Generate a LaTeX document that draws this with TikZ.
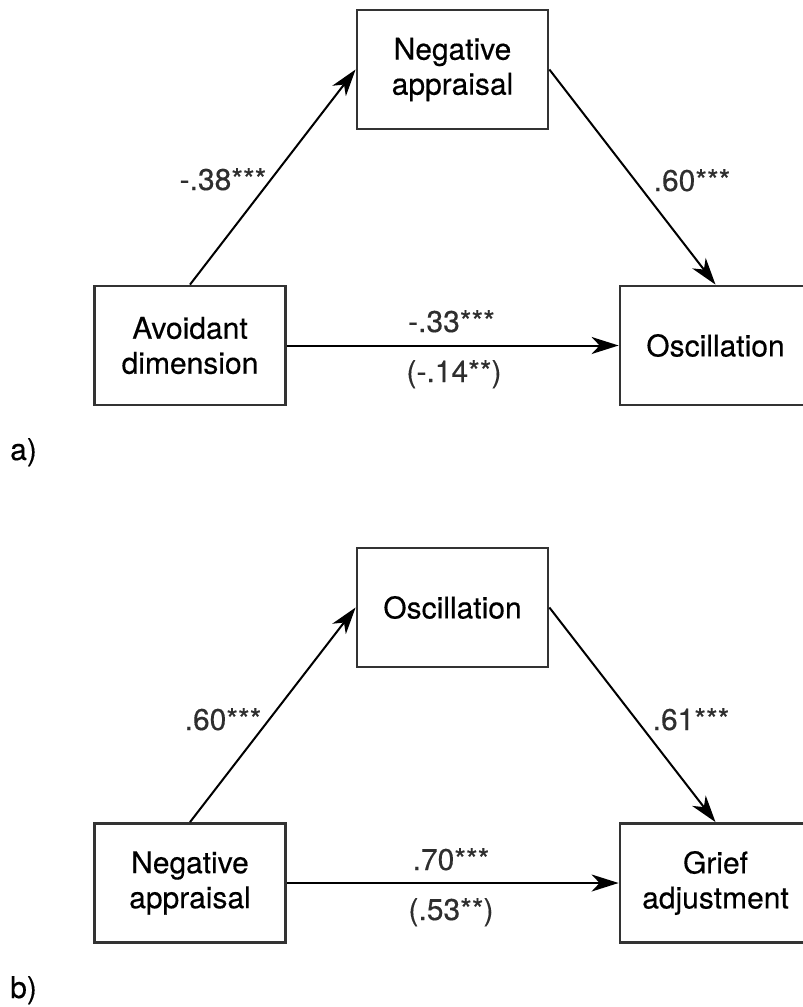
\documentclass[tikz,border=0pt]{standalone}
\usepackage{fontspec}
\setmainfont{TeX Gyre Heros}[FakeBold=0.3]
\usetikzlibrary{arrows.meta}
\definecolor{boxgray}{HTML}{333333}
\definecolor{labgray}{HTML}{2E2E2E}
\begin{document}
\begin{tikzpicture}[x=1pt,y=-1pt,
  box/.style={draw=boxgray, line width=2.8pt, minimum width=191pt, minimum height=119pt, inner sep=0pt, align=center, font=\fontsize{30}{35}\selectfont, text=black},
  link/.style={line width=2pt, -{Stealth[length=27pt,width=17pt,inset=8pt]}},
  lab/.style={anchor=base, font=\fontsize{30}{35}\selectfont, text=labgray, inner sep=0pt},
  plab/.style={anchor=base west, font=\fontsize{30}{35}\selectfont, text=black, inner sep=0pt}]
\useasboundingbox (0,0) rectangle (803,1007);
\clip (0,0) rectangle (803,1007);
% panel a
\node[box] (na1) at (452.5,69.5) {Negative\\appraisal};
\node[box] (av) at (190,345.5) {Avoidant\\dimension};
\node[box] (os1) at (715.5,345.5) {Oscillation};
\draw[link] (av.north) -- (na1.west);
\draw[link] (na1.east) -- (os1.north);
\draw[link] (av.east) -- (os1.west);
\node[lab] (la1) at (223,190) {-.38***};
\node[lab] (la2) at (692,191) {.60***};
\node[lab] (la3) at (451.5,332) {-.33***};
\node[lab] (la4) at (454,382) {(-.14**)};
\node[plab] (pa) at (10,460) {a)};
% panel b
\node[box] (os2) at (452.5,607.5) {Oscillation};
\node[box] (na2) at (190,883) {Negative\\appraisal};
\node[box] (ga) at (715.5,883) {Grief\\adjustment};
\draw[link] (na2.north) -- (os2.west);
\draw[link] (os2.east) -- (ga.north);
\draw[link] (na2.east) -- (ga.west);
\node[lab] (lb1) at (223,730) {.60***};
\node[lab] (lb2) at (691,730) {.61***};
\node[lab] (lb3) at (451,870) {.70***};
\node[lab] (lb4) at (451,920) {(.53**)};
\node[plab] (pb) at (10,998) {b)};
\end{tikzpicture}
\end{document}
